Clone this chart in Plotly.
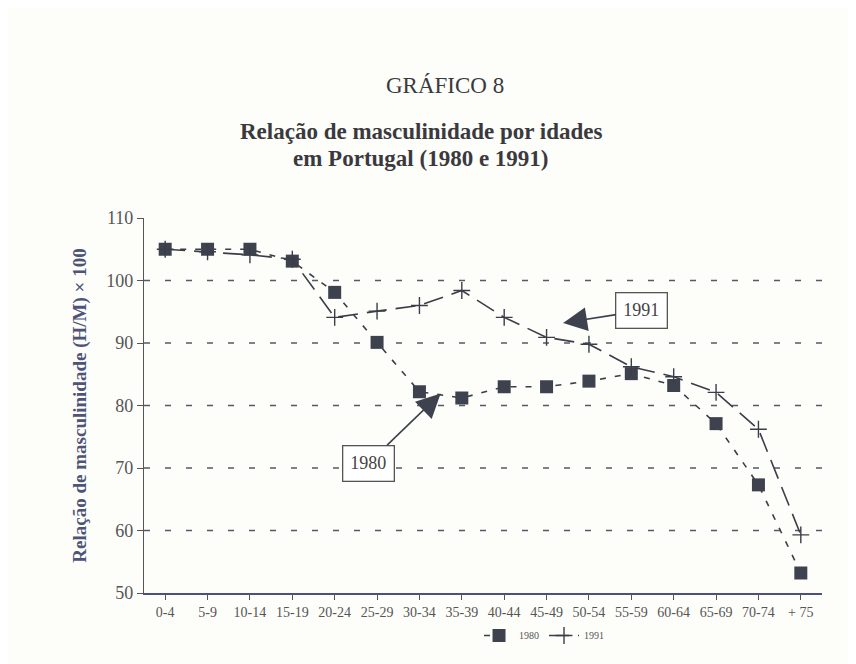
import plotly.graph_objects as go

categories = ["0-4", "5-9", "10-14", "15-19", "20-24", "25-29", "30-34", "35-39",
              "40-44", "45-49", "50-54", "55-59", "60-64", "65-69", "70-74", "+ 75"]
values_1980 = [105, 105, 105, 103.1, 98.1, 90.1, 82.2, 81.2,
               83.0, 83.0, 83.9, 85.1, 83.2, 77.1, 67.3, 53.2]
values_1991 = [105, 104.6, 104.1, 103.4, 94.1, 95.1, 96.0, 98.4,
               94.1, 90.9, 89.8, 86.2, 84.6, 82.1, 76.2, 59.3]
y_ticks = [50, 60, 70, 80, 90, 100, 110]
grid_values = [60, 70, 80, 90, 100]

serif = "Liberation Serif, Times New Roman, serif"
ink = "#3b3e48"

fig = go.Figure()
x_idx = list(range(len(categories)))

fig.add_trace(go.Scatter(
    x=x_idx, y=values_1980, name="1980", mode="lines+markers",
    line=dict(color=ink, width=1.6, dash="6px,9px"),
    marker=dict(symbol="square", size=13, color="#3d424e"),
))
fig.add_trace(go.Scatter(
    x=x_idx, y=values_1991, name="1991", mode="lines+markers",
    line=dict(color=ink, width=1.6, dash="20px,9px"),
    marker=dict(symbol="cross-thin", size=12, line=dict(color=ink, width=1.4)),
))

shapes = []
for g in grid_values:
    shapes.append(dict(type="line", xref="paper", x0=0, x1=1, yref="y", y0=g, y1=g,
                       line=dict(color="#555a66", width=1.4, dash="6px,15px"), layer="below"))

annotations = [
    dict(text="GRÁFICO 8", xref="paper", yref="paper", x=0.444, y=1.352,
         xanchor="center", yanchor="middle", showarrow=False,
         font=dict(family=serif, size=23, color="#3a3a3e")),
    dict(text="<b>Relação de masculinidade por idades</b>", xref="paper", yref="paper",
         x=0.409, y=1.232, xanchor="center", yanchor="middle", showarrow=False,
         font=dict(family=serif, size=23, color="#3a3a3e")),
    dict(text="<b>em Portugal (1980 e 1991)</b>", xref="paper", yref="paper",
         x=0.409, y=1.16, xanchor="center", yanchor="middle", showarrow=False,
         font=dict(family=serif, size=23, color="#3a3a3e")),
    dict(text="1991", x=9.39, y=93.2, xref="x", yref="y", showarrow=True,
         ax=11.25, ay=95.2, axref="x", ayref="y",
         arrowhead=2, arrowsize=3, arrowwidth=1.6, arrowcolor="#3d424e",
         font=dict(family=serif, size=18, color="#444"),
         bordercolor="#555", borderwidth=1.3, borderpad=7, bgcolor="white"),
    dict(text="1980", x=6.5, y=81.9, xref="x", yref="y", showarrow=True,
         ax=4.8, ay=70.8, axref="x", ayref="y",
         arrowhead=2, arrowsize=3, arrowwidth=1.6, arrowcolor="#3d424e",
         font=dict(family=serif, size=18, color="#444"),
         bordercolor="#555", borderwidth=1.3, borderpad=7, bgcolor="white"),
]

fig.update_layout(
    width=856, height=664,
    paper_bgcolor="#fdfdfa", plot_bgcolor="#fdfdfa",
    margin=dict(l=136, r=42, t=210, b=79, autoexpand=False),
    xaxis=dict(
        tickmode="array", tickvals=x_idx, ticktext=categories,
        range=[-0.5, 15.5], showgrid=False, zeroline=False,
        showline=True, linecolor="#4a5080", linewidth=1.6,
        ticks="outside", ticklen=5, tickcolor="#555",
        tickfont=dict(family=serif, size=14, color="#555"),
    ),
    yaxis=dict(
        range=[50, 110], tickvals=y_ticks, showgrid=False, zeroline=False,
        showline=True, linecolor="#555", linewidth=1.3,
        ticks="outside", ticklen=6, tickcolor="#555",
        tickfont=dict(family=serif, size=18, color="#555"),
        title=dict(text="<b>Relação de masculinidade (H/M) × 100</b>",
                   font=dict(family=serif, size=19, color="#4d5478"), standoff=14),
    ),
    shapes=shapes,
    annotations=annotations,
    legend=dict(orientation="h", x=0.59, xanchor="center", yref="container",
                y=0.055, yanchor="middle",
                font=dict(family=serif, size=10, color="#555"),
                bgcolor="rgba(0,0,0,0)"),
    showlegend=True,
)

fig.write_html("out.html")
